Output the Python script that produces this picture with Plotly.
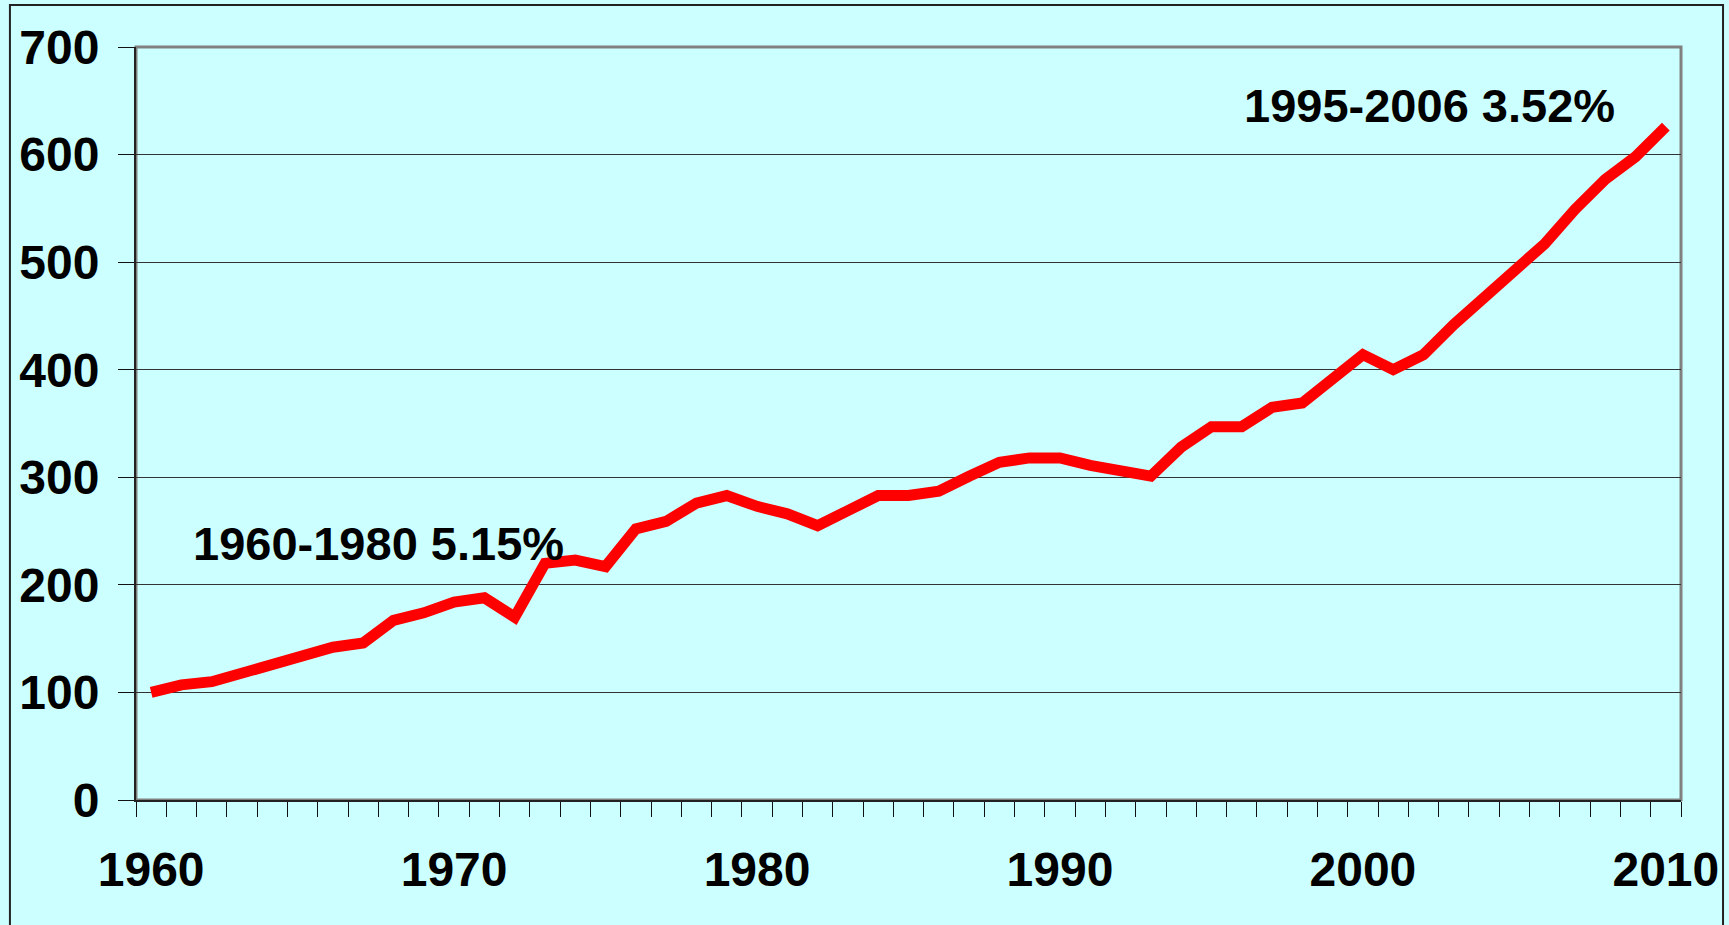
import plotly.graph_objects as go

years = list(range(1960, 2011))
values = [100, 107, 110, 118, 128, 135, 142, 146, 167, 174,
          184, 188, 170, 220, 223, 217, 252, 259, 276, 283,
          273, 266, 255, 269, 283, 283, 287, 301, 314, 318,
          318, 311, 305, 301, 328, 347, 347, 365, 369, 390,
          414, 400, 414, 442, 466, 490, 517, 549, 577, 598,
          626]
x_labels = [1960, 1970, 1980, 1990, 2000, 2010]
y_ticks = [0, 100, 200, 300, 400, 500, 600, 700]
notes = [("1960-1980 5.15%", 1967.5, 238), ("1995-2006 3.52%", 2002.2, 646)]

FONT = "Liberation Sans, Arial, sans-serif"
BG = "#CCFFFF"

fig = go.Figure()
fig.add_trace(go.Scatter(
    x=years, y=values, mode="lines",
    line=dict(color="#FF0000", width=11, shape="linear"),
    hoverinfo="x+y", showlegend=False,
))

for text, xx, yy in notes:
    fig.add_annotation(x=xx, y=yy, xref="x", yref="y", text=text, showarrow=False,
                       font=dict(family=FONT, size=47, color="black", weight="bold"),
                       xanchor="center", yanchor="middle")

# plot-area border (gray) and outer frame
fig.add_shape(type="rect", xref="paper", yref="paper", x0=0, x1=1, y0=0, y1=1,
              line=dict(color="#808080", width=3), layer="below")
fig.add_shape(type="rect", xref="paper", yref="paper", x0=-0.0816, x1=1.0272,
              y0=-0.2, y1=1.0558, line=dict(color="#222222", width=2), layer="below")

fig.update_layout(
    width=1729, height=925, autosize=False,
    margin=dict(l=136, r=48, t=47, b=125),
    paper_bgcolor=BG, plot_bgcolor=BG,
    font=dict(family=FONT, color="black"),
    xaxis=dict(
        range=[1959.5, 2010.5], tickmode="array", tickvals=x_labels,
        ticktext=[str(v) for v in x_labels], ticks="", showgrid=False,
        zeroline=False, showline=True, linecolor="#222222", linewidth=2,
        automargin=False,
        tickfont=dict(family=FONT, size=48, color="black", weight="bold"),
        ticklabelstandoff=26,
        minor=dict(tickmode="array", tickvals=[1959.5 + i for i in range(52)],
                   ticks="outside", ticklen=15, tickwidth=1, tickcolor="#111111",
                   showgrid=False),
    ),
    yaxis=dict(
        range=[0, 700], tickmode="array", tickvals=y_ticks, ticks="outside",
        ticklen=16, tickwidth=1, tickcolor="#111111",
        showgrid=True, gridcolor="#333333", gridwidth=1, zeroline=False,
        showline=True, linecolor="#222222", linewidth=2,
        automargin=False,
        tickfont=dict(family=FONT, size=48, color="black", weight="bold"),
        ticklabelstandoff=9,
    ),
)

fig.write_html("out.html", config={"displayModeBar": False},
               post_script="document.body.style.margin='0px';document.body.style.overflow='hidden';")
